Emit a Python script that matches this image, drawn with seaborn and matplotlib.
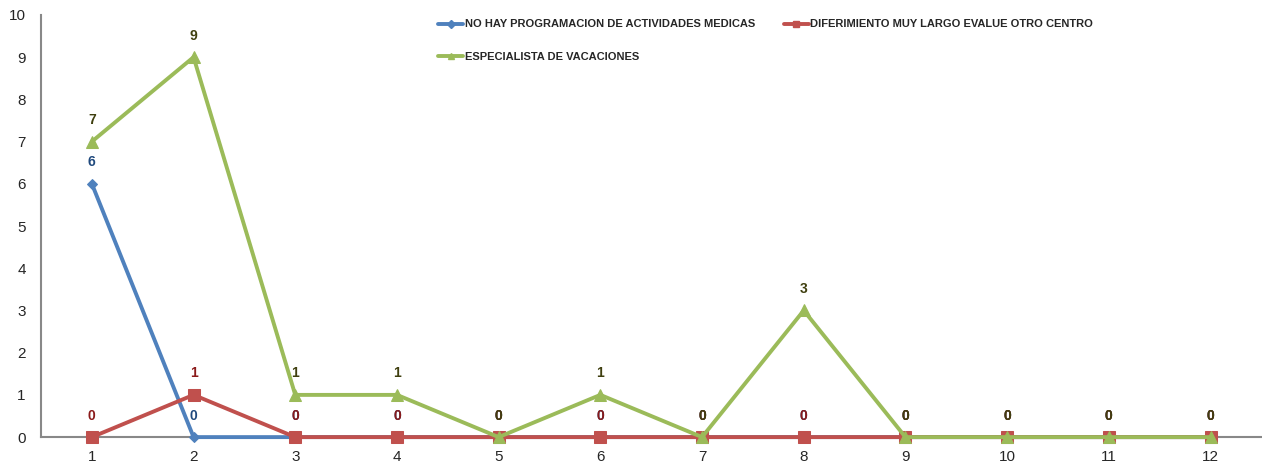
import numpy as np
import pandas as pd
import matplotlib
matplotlib.use("Agg")
import matplotlib.pyplot as plt
from matplotlib.lines import Line2D
import seaborn as sns

meses = list(range(1, 13))
no_hay_prog = [6, 0, 0, 0, 0, 0, 0, 0, 0, 0, 0, 0]
diferimiento = [0, 1, 0, 0, 0, 0, 0, 0, 0, 0, 0, 0]
especialista = [7, 9, 1, 1, 0, 1, 0, 3, 0, 0, 0, 0]

series = [
    ("NO HAY PROGRAMACION DE ACTIVIDADES MEDICAS", no_hay_prog, "#4F81BD", "D", "#1F497D", 5.5),
    ("DIFERIMIENTO MUY LARGO EVALUE OTRO CENTRO", diferimiento, "#C0504D", "s", "#8B1A1A", 8),
    ("ESPECIALISTA DE VACACIONES", especialista, "#9BBB59", "^", "#3F3F0F", 8.5),
]

sns.set_style("white")
plt.rcParams['font.family'] = ['Liberation Sans', 'DejaVu Sans']

fig = plt.figure(figsize=(12.62, 4.67), dpi=100)
ax = fig.add_axes([0.0325, 0.064, 0.967, 0.904])

handles = []
for i, (name, vals, col, mk, lab_col, ms) in enumerate(series):
    df = pd.DataFrame({"mes": meses, "valor": vals})
    sns.lineplot(data=df, x="mes", y="valor", ax=ax, color=col, marker=mk,
                 markersize=ms, markeredgecolor=col, linewidth=2.8,
                 zorder=3 + i, clip_on=False, legend=False)
    handles.append(Line2D([], [], color=col, marker=mk, markersize=4,
                          markeredgecolor=col, linewidth=2.8, label=name))

for i, (name, vals, col, mk, lab_col, ms) in enumerate(series):
    for x, y in zip(meses, vals):
        ax.annotate(str(y), (x, y), xytext=(0, 10.5), textcoords="offset points",
                    ha="center", va="bottom", fontsize=10, fontweight="bold",
                    color=lab_col, zorder=10 + i)

ax.set_xlim(0.5, 12.5)
ax.set_ylim(0, 10)
ax.set_xticks(meses)
ax.set_xticks(np.arange(0.5, 13, 1), minor=True)
ax.set_yticks(range(0, 11))
ax.tick_params(axis="x", which="major", length=0, pad=9, labelsize=11)
ax.tick_params(axis="x", which="minor", length=5, color="#888888", direction="out")
ax.tick_params(axis="y", length=5, color="#888888", direction="out", labelsize=11, pad=6)
ax.set_xlabel("")
ax.set_ylabel("")
for s in ["top", "right"]:
    ax.spines[s].set_visible(False)
for s in ["left", "bottom"]:
    ax.spines[s].set_color("#888888")
    ax.spines[s].set_linewidth(1.5)
    ax.spines[s].set_zorder(2)

# column-major fill: row 1 = blue, red ; row 2 = green
order = [handles[0], handles[2], handles[1]]
leg = ax.legend(handles=order, ncol=2, loc="upper left", bbox_to_anchor=(0.317, 1.013),
                frameon=False, handlelength=2.3, handletextpad=0.1, columnspacing=2.6,
                labelspacing=2.0, prop={"size": 8, "weight": "bold"})

fig.savefig("out.png", dpi=100)
